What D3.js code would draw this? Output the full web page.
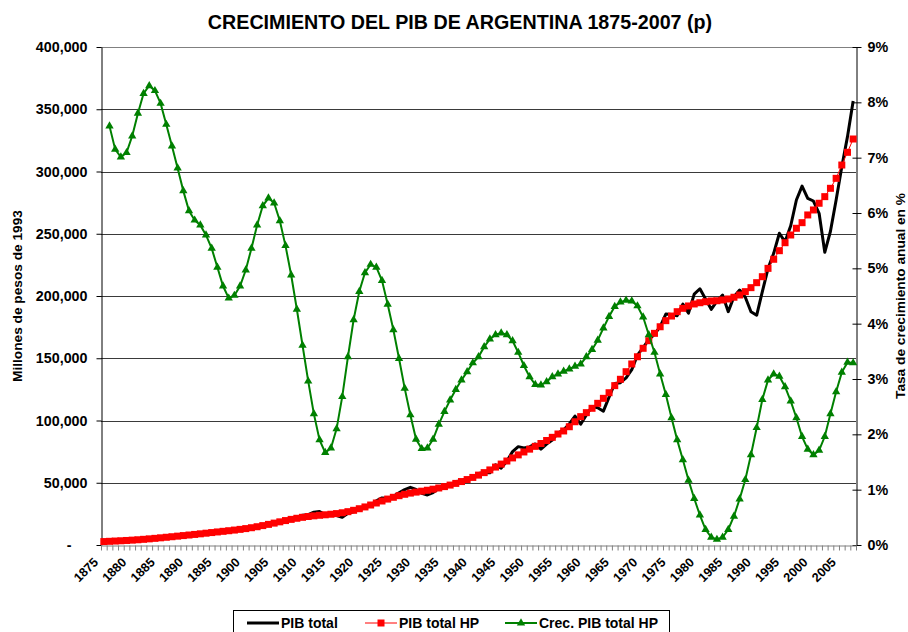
<!DOCTYPE html>
<html>
<head>
<meta charset="utf-8">
<script src="https://cdn.jsdelivr.net/npm/d3@7"></script>
<style>
  body { margin: 0; background: #fff; }
  svg text { font-family: Arial, "Liberation Sans", sans-serif; font-weight: bold; fill: #000; }
</style>
</head>
<body>
<svg width="908" height="632"></svg>
<script>
// categories
const years = d3.range(1875, 2008);

// PIB total (millones de pesos de 1993)
const pibTotal = [
  2700, 2850, 3150, 3350, 3700, 3850, 4250, 4600, 5050, 5400,
  5900, 6100, 6700, 7300, 7800, 7900, 7700, 8800, 9400, 10300,
  10900, 11600, 11200, 12200, 13500, 12800, 13600, 13800, 15500, 16800,
  18200, 19000, 19400, 21200, 22300, 24000, 24400, 26300, 26900, 24300,
  24400, 23700, 22200, 25400, 26600, 28400, 29600, 32000, 35400, 37800,
  37600, 39100, 41900, 44500, 46300, 44600, 41500, 40200, 42100, 45300,
  47300, 47800, 51100, 51500, 53500, 54400, 57500, 58200, 58000, 64500,
  61700, 67500, 75000, 79000, 78000, 78800, 81200, 77000, 81000, 84300,
  90000, 92500, 97200, 103600, 97000, 104400, 111200, 110300, 107500, 118800,
  129700, 130400, 134300, 140900, 152500, 158600, 165000, 169200, 175400, 185500,
  185200, 184200, 193500, 186200, 201500, 205800, 197600, 189300, 195800, 200800,
  187400, 199500, 204800, 199000, 187300, 184500, 203500, 222000, 234300, 250400,
  243500, 256400, 277100, 288300, 278400, 276300, 266400, 235100, 252000, 277100,
  303900, 328000, 356600
];

// PIB total HP (tendencia)
const pibHP = [
  2760, 2960, 3180, 3400, 3640, 3910, 4210, 4560, 4940, 5340,
  5770, 6210, 6650, 7110, 7560, 8020, 8490, 8980, 9480, 9990,
  10490, 10980, 11470, 11990, 12550, 13170, 13880, 14680, 15580, 16560,
  17580, 18610, 19620, 20580, 21460, 22230, 22890, 23430, 23880, 24270,
  24700, 25220, 25890, 26770, 27860, 29140, 30570, 32120, 33740, 35350,
  36890, 38320, 39610, 40730, 41690, 42490, 43230, 43980, 44820, 45800,
  46900, 48130, 49480, 50960, 52550, 54280, 56130, 58140, 60300, 62590,
  64990, 67460, 69950, 72380, 74730, 77000, 79230, 81520, 83930, 86480,
  89150, 91600, 95000, 99000, 103100, 106300, 109800, 113800, 117800, 122300,
  128000, 133100, 139200, 145400, 151200, 158000, 164100, 170000, 175300, 180200,
  183900, 187400, 190100, 192000, 193600, 194600, 195400, 196000, 196200, 196800,
  197600, 199000, 200800, 203500, 206700, 210700, 215500, 222200, 229500, 236400,
  242800, 249000, 254400, 258900, 265100, 269100, 274500, 279800, 286500, 294500,
  305200, 315400, 326100
];

// Crec. PIB total HP (% anual), 1876-2007
const crecHP = [
  7.57, 7.15, 7.01, 7.09, 7.39, 7.80, 8.16, 8.30, 8.21, 7.98,
  7.60, 7.21, 6.81, 6.40, 6.04, 5.87, 5.78, 5.60, 5.36, 5.02,
  4.68, 4.46, 4.51, 4.68, 4.97, 5.36, 5.78, 6.13, 6.27, 6.18,
  5.86, 5.41, 4.88, 4.26, 3.61, 2.96, 2.37, 1.90, 1.67, 1.75,
  2.10, 2.68, 3.40, 4.07, 4.58, 4.92, 5.07, 5.02, 4.78, 4.35,
  3.89, 3.37, 2.83, 2.35, 1.91, 1.74, 1.75, 1.91, 2.18, 2.41,
  2.62, 2.81, 2.98, 3.13, 3.29, 3.40, 3.58, 3.72, 3.80, 3.83,
  3.80, 3.69, 3.48, 3.24, 3.04, 2.90, 2.89, 2.95, 3.04, 3.09,
  3.14, 3.18, 3.23, 3.27, 3.40, 3.53, 3.70, 3.92, 4.13, 4.31,
  4.39, 4.42, 4.41, 4.32, 4.12, 3.80, 3.48, 3.09, 2.72, 2.30,
  1.90, 1.54, 1.17, 0.84, 0.54, 0.28, 0.14, 0.10, 0.14, 0.28,
  0.52, 0.83, 1.18, 1.63, 2.12, 2.63, 2.98, 3.09, 3.05, 2.86,
  2.60, 2.30, 1.96, 1.73, 1.63, 1.71, 1.96, 2.37, 2.77, 3.12,
  3.30, 3.29
];

// tick labels
const leftTicks = [0, 50000, 100000, 150000, 200000, 250000, 300000, 350000, 400000];
const rightTicks = [0, 1, 2, 3, 4, 5, 6, 7, 8, 9];
const xLabelYears = d3.range(1875, 2008, 5);

const seriesNames = ["PIB total", "PIB total HP", "Crec. PIB total HP"];

const svg = d3.select("svg");
const plot = { left: 101, right: 856, top: 47, bottom: 545 };

// scales
const xScale = d3.scaleBand().domain(years).range([plot.left, plot.right]).padding(0);
const xIndex = d3.scaleLinear().domain([0, years.length]).range([plot.left, plot.right]);
const yLeft = d3.scaleLinear().domain([0, 400000]).range([plot.bottom, plot.top]);
const yRight = d3.scaleLinear().domain([0, 9]).range([plot.bottom, plot.top]);
const cx = (d) => xScale(d.year) + xScale.bandwidth() / 2;

// title
svg.append("text")
  .attr("x", 460)
  .attr("y", 29)
  .attr("text-anchor", "middle")
  .attr("font-size", "19.7px")
  .text("CRECIMIENTO DEL PIB DE ARGENTINA 1875-2007 (p)");

// gridlines
svg.append("g")
  .selectAll("line")
  .data(leftTicks.slice(1))
  .join("line")
  .attr("x1", plot.left)
  .attr("x2", plot.right)
  .attr("y1", (d) => Math.round(yLeft(d)) + 0.5)
  .attr("y2", (d) => Math.round(yLeft(d)) + 0.5)
  .attr("stroke", (d) => (d === 400000 ? "#808080" : "#3a3a3a"))
  .attr("stroke-width", 1);

// left axis
const leftAxis = svg.append("g")
  .attr("transform", "translate(" + (plot.left + 0.5) + ",0)")
  .call(d3.axisLeft(yLeft)
    .tickValues(leftTicks)
    .tickFormat((d) => (d === 0 ? "-" : d3.format(",")(d)))
    .tickSize(5)
    .tickSizeOuter(0)
    .tickPadding(9));
leftAxis.select(".domain").attr("stroke", "#000");
leftAxis.selectAll("text").attr("font-size", "14.3px").attr("fill", "#000");
leftAxis.selectAll(".tick").filter((d) => d === 0).select("text").attr("dx", "-16");

svg.append("text")
  .attr("transform", "translate(22,296) rotate(-90)")
  .attr("text-anchor", "middle")
  .attr("font-size", "13.7px")
  .text("Millones de pesos de 1993");

// right axis
const rightAxis = svg.append("g")
  .attr("transform", "translate(" + (plot.right + 0.5) + ",0)")
  .call(d3.axisRight(yRight)
    .tickValues(rightTicks)
    .tickFormat((d) => d + "%")
    .tickSize(5)
    .tickSizeOuter(0)
    .tickPadding(6));
rightAxis.select(".domain").attr("stroke", "#000");
rightAxis.selectAll(".tick line").attr("x1", -4);
rightAxis.selectAll("text").attr("font-size", "14.3px").attr("fill", "#000");

svg.append("text")
  .attr("transform", "translate(905,296) rotate(-90)")
  .attr("text-anchor", "middle")
  .attr("font-size", "13.7px")
  .text("Tasa de crecimiento anual en %");

// x axis: tick marks between categories
const xTicks = svg.append("g")
  .attr("transform", "translate(0," + (plot.bottom + 0.5) + ")")
  .call(d3.axisBottom(xIndex)
    .tickValues(d3.range(0, years.length + 1))
    .tickFormat("")
    .tickSize(5)
    .tickSizeOuter(0));
xTicks.select(".domain").attr("stroke", "#808080");
xTicks.selectAll(".tick line").attr("stroke", "#808080");

// x axis labels every 5 years
const xLabels = svg.append("g")
  .attr("transform", "translate(0," + plot.bottom + ")")
  .call(d3.axisBottom(xScale).tickValues(xLabelYears).tickSize(0).tickPadding(0));
xLabels.select(".domain").remove();
xLabels.selectAll("text")
  .attr("font-size", "12.6px")
  .attr("fill", "#000")
  .attr("text-anchor", "end")
  .attr("dy", 0)
  .attr("transform", "translate(-5,18) rotate(-45)");

// series data
const totalData = years.map((y, i) => ({ year: y, value: pibTotal[i] }));
const hpData = years.map((y, i) => ({ year: y, value: pibHP[i] }));
const crecData = years.slice(1).map((y, i) => ({ year: y, value: crecHP[i] }));

// PIB total
svg.append("path")
  .datum(totalData)
  .attr("fill", "none")
  .attr("stroke", "#000")
  .attr("stroke-width", 3)
  .attr("stroke-linejoin", "round")
  .attr("d", d3.line().x(cx).y((d) => yLeft(d.value)));

// PIB total HP
svg.append("path")
  .datum(hpData)
  .attr("fill", "none")
  .attr("stroke", "#ff0000")
  .attr("stroke-width", 1)
  .attr("d", d3.line().x(cx).y((d) => yLeft(d.value)));
svg.append("g")
  .selectAll("rect")
  .data(hpData)
  .join("rect")
  .attr("x", (d) => cx(d) - 3.5)
  .attr("y", (d) => yLeft(d.value) - 3.5)
  .attr("width", 7)
  .attr("height", 7)
  .attr("fill", "#ff0000");

// Crec. PIB total HP (secondary axis)
const triangle = d3.symbol().type(d3.symbolTriangle).size(30);
svg.append("path")
  .datum(crecData)
  .attr("fill", "none")
  .attr("stroke", "#008000")
  .attr("stroke-width", 2)
  .attr("d", d3.line().x(cx).y((d) => yRight(d.value)));
svg.append("g")
  .selectAll("path")
  .data(crecData)
  .join("path")
  .attr("transform", (d) => "translate(" + cx(d) + "," + yRight(d.value) + ")")
  .attr("d", triangle)
  .attr("fill", "#008000");

// legend
const legend = svg.append("g");
legend.append("rect")
  .attr("x", 233.5)
  .attr("y", 610.5)
  .attr("width", 436)
  .attr("height", 30)
  .attr("fill", "#fff")
  .attr("stroke", "#000");

const legendItems = [
  { name: seriesNames[0], x: 247, color: "#000", width: 3, marker: null },
  { name: seriesNames[1], x: 365, color: "#ff0000", width: 1, marker: "square" },
  { name: seriesNames[2], x: 505, color: "#008000", width: 2, marker: "triangle" },
];
legendItems.forEach((item) => {
  const g = legend.append("g");
  g.append("line")
    .attr("x1", item.x)
    .attr("x2", item.x + 32)
    .attr("y1", 623)
    .attr("y2", 623)
    .attr("stroke", item.color)
    .attr("stroke-width", item.width);
  if (item.marker === "square") {
    g.append("rect")
      .attr("x", item.x + 12.5)
      .attr("y", 619.5)
      .attr("width", 7)
      .attr("height", 7)
      .attr("fill", item.color);
  } else if (item.marker === "triangle") {
    g.append("path")
      .attr("transform", "translate(" + (item.x + 16) + ",623)")
      .attr("d", triangle)
      .attr("fill", item.color);
  }
  g.append("text")
    .attr("x", item.x + 34)
    .attr("y", 628)
    .attr("font-size", "14px")
    .text(item.name);
});
</script>
</body>
</html>
